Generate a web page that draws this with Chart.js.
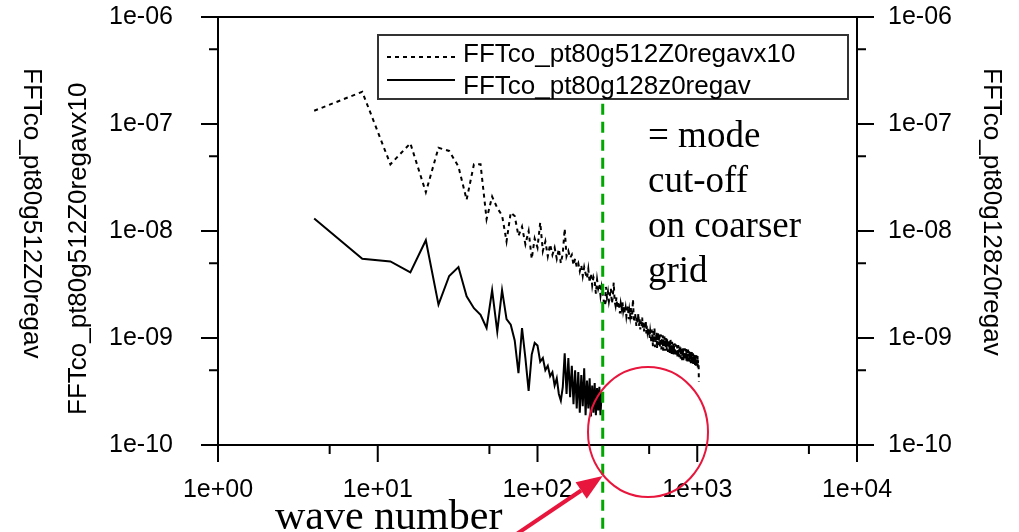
<!DOCTYPE html>
<html>
<head>
<meta charset="utf-8">
<script src="https://cdn.jsdelivr.net/npm/chart.js@4.4.1/dist/chart.umd.min.js"></script>
<style>
  html, body { margin: 0; padding: 0; background: #fff; }
  #spectrum { display: block; }
</style>
</head>
<body>
<canvas id="spectrum" width="1019" height="532"></canvas>
<script>
// spectra are sampled on k = 4, 8, 12, ...
const kStep = 4;

// FFTco_pt80g512Z0regav, multiplied by 10 (k = 4 .. 1024)
const fineSpec = [
  1.33e-7, 2.0e-7, 4.2e-8, 6.6e-8, 2.3e-8, 6.0e-8, 5.6e-8, 4.0e-8, 1.96e-8, 4.2e-8,
  4.2e-8, 1.29e-8, 2.1e-8, 1.64e-8, 1.4e-8, 8.0e-9, 1.49e-8,
  1.38e-8, 9.0e-9, 1.1e-8, 7.5e-9, 1.0e-8, 5.5e-9, 8.5e-9, 7.0e-9, 1.2e-8, 6.5e-9,
  8.0e-9, 5.8e-9, 7.5e-9, 6.0e-9, 7.0e-9,
  5.5e-9, 6.8e-9, 5.0e-9, 6.2e-9, 1.05e-8, 5.8e-9, 6.5e-9, 5.6e-9, 6.0e-9, 4.8e-9,
  5.5e-9, 4.6e-9, 5.0e-9, 4.2e-9, 4.8e-9, 3.8e-9, 4.6e-9, 4.0e-9, 3.6e-9, 4.4e-9,
  3.3e-9, 4.0e-9, 3.1e-9, 3.7e-9, 3.4e-9, 2.6e-9, 3.5e-9, 2.9e-9, 3.2e-9, 2.5e-9,
  3.0e-9, 2.6e-9,
  2.2e-9, 2.0e-9, 3.0e-9, 2.4e-9, 2.7e-9, 2.2e-9, 2.5e-9, 2.9e-9, 2.1e-9, 2.4e-9,
  3.3e-9, 2.2e-9, 2.0e-9, 2.4e-9, 1.9e-9, 2.2e-9, 2.0e-9, 1.7e-9, 2.1e-9, 1.9e-9,
  2.2e-9, 1.8e-9, 2.0e-9, 1.7e-9, 1.9e-9, 1.6e-9, 1.8e-9, 2.0e-9, 1.5e-9, 1.8e-9,
  1.6e-9, 1.9e-9, 1.5e-9, 1.7e-9, 2.3e-9, 1.6e-9, 1.4e-9, 1.7e-9, 1.5e-9, 1.3e-9,
  1.6e-9, 1.4e-9, 1.7e-9, 1.3e-9, 1.5e-9, 1.2e-9, 1.45e-9, 1.3e-9, 1.55e-9, 1.25e-9,
  1.4e-9, 1.15e-9, 1.35e-9, 1.2e-9, 1.45e-9, 1.1e-9, 1.3e-9, 1.15e-9, 1.25e-9, 1.05e-9,
  1.2e-9, 1.0e-9, 1.15e-9, 1.05e-9,
  9.0e-10, 1.2e-9, 1.02e-9, 8.4e-10, 1.16e-9, 9.6e-10, 1.24e-9, 8.2e-10, 1.06e-9, 9.2e-10,
  1.14e-9, 8.0e-10, 1.0e-9, 1.12e-9, 8.6e-10, 9.8e-10,
  1.1e-9, 8.2e-10, 9.4e-10, 1.08e-9, 7.8e-10, 9.8e-10, 8.8e-10, 1.06e-9, 7.6e-10, 9.6e-10,
  8.4e-10, 1.04e-9, 7.6e-10, 9.4e-10, 8.2e-10, 1.0e-9,
  7.6e-10, 9.8e-10, 8.4e-10, 7.4e-10, 9.6e-10, 8.0e-10, 9.2e-10, 7.2e-10, 8.8e-10, 9.9e-10,
  7.4e-10, 8.6e-10, 7.0e-10, 9.2e-10, 7.8e-10, 7.2e-10,
  9.0e-10, 7.0e-10, 8.4e-10, 7.4e-10, 8.9e-10, 6.8e-10, 8.2e-10, 8.7e-10, 6.7e-10, 8.0e-10,
  8.5e-10, 6.6e-10, 7.9e-10, 8.6e-10, 6.9e-10, 7.8e-10,
  6.6e-10, 8.3e-10, 7.4e-10, 8.4e-10, 6.4e-10, 7.8e-10, 7.2e-10, 8.2e-10, 6.2e-10, 7.6e-10,
  7.0e-10, 8.1e-10, 6.1e-10, 7.5e-10, 6.8e-10, 7.6e-10,
  8.0e-10, 6.2e-10, 7.3e-10, 6.8e-10, 7.9e-10, 6.0e-10, 7.1e-10, 7.7e-10, 6.0e-10, 7.0e-10,
  7.8e-10, 5.8e-10, 6.8e-10, 7.5e-10, 6.1e-10, 7.2e-10,
  6.0e-10, 7.6e-10, 6.6e-10, 5.8e-10, 7.3e-10, 6.4e-10, 7.4e-10, 5.7e-10, 6.8e-10, 6.3e-10,
  7.2e-10, 5.6e-10, 6.7e-10, 6.2e-10, 7.1e-10, 5.8e-10,
  6.9e-10, 5.6e-10, 7.0e-10, 6.1e-10, 5.5e-10, 6.6e-10, 6.9e-10, 5.4e-10, 6.4e-10, 5.9e-10,
  6.8e-10, 5.3e-10, 6.2e-10, 5.7e-10, 5.6e-10, 3.9e-10
];

// FFTco_pt80g128z0regav (k = 4 .. 256)
const coarseSpec = [
  1.31e-8, 5.5e-9, 5.2e-9, 4.1e-9, 8.2e-9, 2.05e-9, 3.8e-9, 4.6e-9, 2.45e-9, 1.9e-9,
  1.65e-9, 1.24e-9, 2.8e-9, 1.15e-9, 2.8e-9, 1.5e-9,
  1.33e-9, 9.5e-10, 4.7e-10, 1.24e-9, 6.5e-10, 3.2e-10, 7.0e-10, 9.0e-10, 8.5e-10, 6.0e-10,
  6.5e-10, 5.0e-10, 5.5e-10, 4.4e-10, 4.8e-10, 3.6e-10,
  4.2e-10, 3.0e-10, 2.6e-10, 3.5e-10, 7.2e-10, 3.0e-10, 6.5e-10, 2.8e-10, 5.5e-10, 2.4e-10,
  5.0e-10, 2.2e-10, 4.8e-10, 2.0e-10, 4.5e-10, 2.3e-10, 5.2e-10, 1.9e-10, 4.0e-10, 2.2e-10,
  4.2e-10, 1.85e-10, 3.6e-10, 2.0e-10, 3.8e-10, 1.9e-10, 3.4e-10, 2.1e-10, 3.5e-10, 1.9e-10,
  3.1e-10, 2.6e-10
];

const fineLabel = 'FFTco_pt80g512Z0regavx10';
const coarseLabel = 'FFTco_pt80g128z0regav';
const leftTitle = 'FFTco_pt80g512Z0regav';

const xTickVals = [1, 5, 10, 50, 100, 500, 1000, 5000, 10000];
const yTickVals = [1e-10, 5e-10, 1e-9, 5e-9, 1e-8, 5e-8, 1e-7, 5e-7, 1e-6];

// mode cut-off of the coarser grid and its note
const cutoffK = 256;
const cutoffTop = 1.55e-7;
const noteLines = ['= mode', 'cut-off', 'on coarser', 'grid'];
const xTitle = 'wave number';

const SANS = "'Liberation Sans', Arial, sans-serif";
const SERIF = "'Liberation Serif', 'Times New Roman', serif";
const RED = '#e8153c';

const isDecade = v => Math.abs(Math.log10(v) - Math.round(Math.log10(v))) < 1e-9;
const expLabel = v => {
  const e = Math.round(Math.log10(v));
  return '1e' + (e < 0 ? '-' : '+') + String(Math.abs(e)).padStart(2, '0');
};
const toPoints = arr => arr.map((v, i) => ({ x: kStep * (i + 1), y: v }));

// fixed axis band sizes; the label padding must not push the plot area around
const fixBand = (w, h) => s => {
  if (w !== null) s.width = w;
  if (h !== null) s.height = h;
  s.paddingTop = 0;
  s.paddingBottom = 0;
  s.paddingLeft = 0;
  s.paddingRight = 0;
};

const logAxis = (min, max, vals, pad, extra) => Object.assign({
  type: 'logarithmic',
  min: min,
  max: max,
  grid: { display: false, drawTicks: false },
  border: { display: false },
  afterBuildTicks: s => { s.ticks = vals.map(v => ({ value: v, major: isDecade(v) })); },
  ticks: {
    autoSkip: false,
    maxRotation: 0,
    padding: pad,
    color: '#000',
    font: { family: SANS, size: 25 },
    callback: v => isDecade(v) ? expLabel(v) : ''
  }
}, extra);

const decorations = {
  id: 'decorations',
  beforeDraw(chart) {
    const ctx = chart.ctx;
    ctx.save();
    ctx.fillStyle = '#fff';
    ctx.fillRect(0, 0, chart.width, chart.height);
    ctx.restore();
  },
  afterDraw(chart) {
    const { ctx, chartArea: a, scales: { x, y } } = chart;
    ctx.save();

    // frame and outward tick marks
    ctx.strokeStyle = '#000';
    ctx.lineWidth = 2;
    ctx.strokeRect(a.left, a.top, a.right - a.left, a.bottom - a.top);
    ctx.beginPath();
    xTickVals.forEach(v => {
      const px = x.getPixelForValue(v);
      const len = isDecade(v) ? 17 : 9;
      ctx.moveTo(px, a.bottom);
      ctx.lineTo(px, a.bottom + len);
    });
    yTickVals.forEach(v => {
      const py = y.getPixelForValue(v);
      const len = isDecade(v) ? 17 : 9;
      ctx.moveTo(a.left - len, py);
      ctx.lineTo(a.left, py);
      ctx.moveTo(a.right, py);
      ctx.lineTo(a.right + len, py);
    });
    ctx.stroke();

    // side titles
    ctx.fillStyle = '#000';
    ctx.font = '26px ' + SANS;
    ctx.textBaseline = 'middle';
    ctx.textAlign = 'left';
    ctx.save();
    ctx.translate(31, 68);
    ctx.rotate(Math.PI / 2);
    ctx.fillText(leftTitle, 0, 0);
    ctx.restore();
    ctx.save();
    ctx.translate(79, 415);
    ctx.rotate(-Math.PI / 2);
    ctx.fillText(fineLabel, 0, 0);
    ctx.restore();
    ctx.save();
    ctx.translate(991, 68);
    ctx.rotate(Math.PI / 2);
    ctx.fillText(coarseLabel, 0, 0);
    ctx.restore();

    // legend box
    const ds = chart.data.datasets;
    ctx.fillStyle = '#fff';
    ctx.fillRect(378, 35, 470, 64);
    ctx.strokeStyle = '#333';
    ctx.lineWidth = 2;
    ctx.strokeRect(378, 35, 470, 64);
    ds.forEach((d, i) => {
      const ly = i === 0 ? 57 : 80;
      ctx.strokeStyle = d.borderColor;
      ctx.lineWidth = d.borderWidth;
      ctx.setLineDash(d.borderDash || []);
      ctx.beginPath();
      ctx.moveTo(387, ly);
      ctx.lineTo(455, ly);
      ctx.stroke();
      ctx.setLineDash([]);
      ctx.fillStyle = '#000';
      ctx.font = '26px ' + SANS;
      ctx.textBaseline = 'alphabetic';
      ctx.fillText(d.label, 463, i === 0 ? 62 : 94);
    });

    // cut-off marker
    const cx = x.getPixelForValue(cutoffK);
    ctx.strokeStyle = '#00a800';
    ctx.lineWidth = 3;
    ctx.setLineDash([11, 7]);
    ctx.beginPath();
    ctx.moveTo(cx, y.getPixelForValue(cutoffTop));
    ctx.lineTo(cx, chart.height);
    ctx.stroke();
    ctx.setLineDash([]);

    // note text
    ctx.fillStyle = '#000';
    ctx.font = '37px ' + SERIF;
    ctx.textBaseline = 'middle';
    noteLines.forEach((t, i) => ctx.fillText(t, 648, 137 + i * 45));

    // circle round the region above the cut-off
    ctx.strokeStyle = RED;
    ctx.lineWidth = 2;
    ctx.beginPath();
    ctx.ellipse(648, 432, 60, 65, 0, 0, Math.PI * 2);
    ctx.stroke();

    // arrow from the axis title to the cut-off
    const tip = { x: cx, y: 476 };
    const tail = { x: cx - 92, y: 538 };
    const ang = Math.atan2(tip.y - tail.y, tip.x - tail.x);
    const hl = 26, hw = 10;
    const bx = tip.x - hl * Math.cos(ang), by = tip.y - hl * Math.sin(ang);
    ctx.strokeStyle = RED;
    ctx.lineWidth = 4;
    ctx.beginPath();
    ctx.moveTo(tail.x, tail.y);
    ctx.lineTo(bx, by);
    ctx.stroke();
    ctx.fillStyle = RED;
    ctx.beginPath();
    ctx.moveTo(tip.x, tip.y);
    ctx.lineTo(bx + hw * Math.sin(ang), by - hw * Math.cos(ang));
    ctx.lineTo(bx - hw * Math.sin(ang), by + hw * Math.cos(ang));
    ctx.closePath();
    ctx.fill();

    // x axis title
    ctx.fillStyle = '#000';
    ctx.font = '42px ' + SERIF;
    ctx.textBaseline = 'alphabetic';
    ctx.fillText(xTitle, 275, 529);

    ctx.restore();
  }
};

new Chart(document.getElementById('spectrum').getContext('2d'), {
  type: 'line',
  data: {
    datasets: [{
      label: fineLabel,
      data: toPoints(fineSpec),
      yAxisID: 'y',
      borderColor: '#000',
      borderWidth: 2,
      borderDash: [4, 4],
      pointRadius: 0,
      tension: 0,
      fill: false
    }, {
      label: coarseLabel,
      data: toPoints(coarseSpec),
      yAxisID: 'y2',
      borderColor: '#000',
      borderWidth: 2,
      pointRadius: 0,
      tension: 0,
      fill: false
    }]
  },
  options: {
    responsive: false,
    devicePixelRatio: 1,
    animation: false,
    events: [],
    layout: { padding: { top: 17, left: 0, right: 0, bottom: 0 } },
    plugins: {
      legend: { display: false },
      tooltip: { enabled: false },
      title: { display: false }
    },
    scales: {
      x: logAxis(1, 10000, xTickVals, 30, {
        position: 'bottom',
        afterFit: fixBand(null, 87)
      }),
      y: logAxis(1e-10, 1e-6, yTickVals, 45, {
        position: 'left',
        afterFit: fixBand(218, null)
      }),
      y2: logAxis(1e-10, 1e-6, yTickVals, 31, {
        position: 'right',
        afterFit: fixBand(162, null)
      })
    }
  },
  plugins: [decorations]
});
</script>
</body>
</html>
